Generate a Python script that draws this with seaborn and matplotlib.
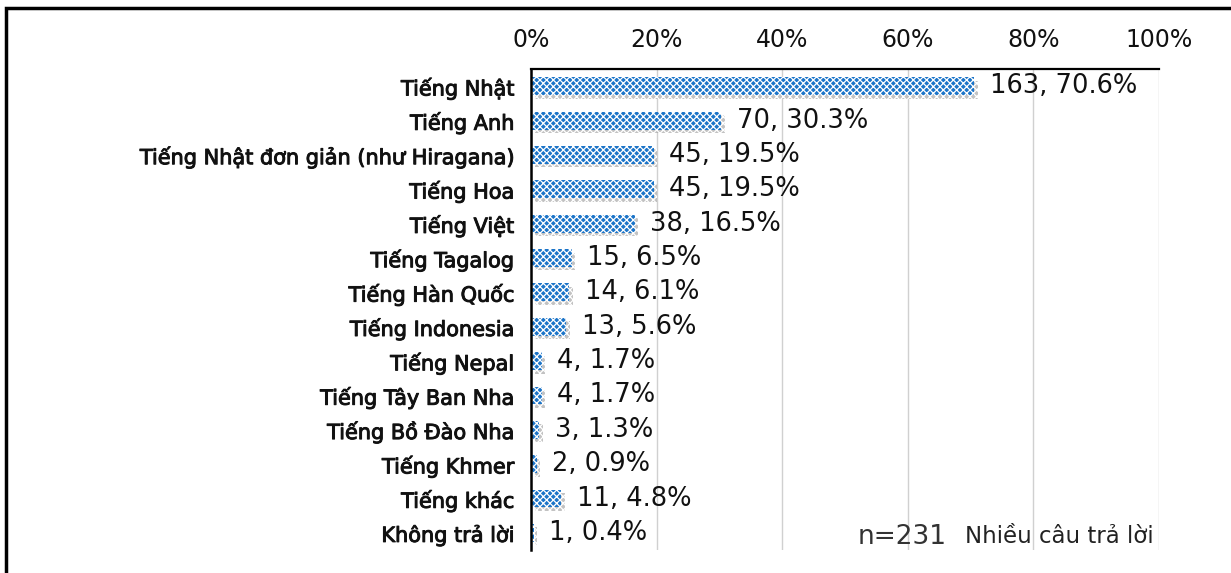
import matplotlib
matplotlib.use("Agg")
import matplotlib.pyplot as plt
import matplotlib.patheffects as pe
import seaborn as sns
import pandas as pd

languages = ["Tiếng Nhật", "Tiếng Anh", "Tiếng Nhật đơn giản (như Hiragana)",
             "Tiếng Hoa", "Tiếng Việt", "Tiếng Tagalog", "Tiếng Hàn Quốc",
             "Tiếng Indonesia", "Tiếng Nepal", "Tiếng Tây Ban Nha",
             "Tiếng Bồ Đào Nha", "Tiếng Khmer", "Tiếng khác", "Không trả lời"]
counts = [163, 70, 45, 45, 38, 15, 14, 13, 4, 4, 3, 2, 11, 1]
percents = [70.6, 30.3, 19.5, 19.5, 16.5, 6.5, 6.1, 5.6, 1.7, 1.7, 1.3, 0.9, 4.8, 0.4]
xticks = [0, 20, 40, 60, 80, 100]

df = pd.DataFrame({"lang": languages, "pct": percents, "n": counts})

sns.set_style("white")
plt.rcParams["font.family"] = ["DejaVu Sans"]
plt.rcParams["hatch.linewidth"] = 0.9

fig = plt.figure(figsize=(12.31, 5.73), dpi=100)
ax = fig.add_axes([0.4315, 0.04, 0.51, 0.8395])

sns.barplot(data=df, y="lang", x="pct", orient="h", color="#1b74c8",
            width=0.52, ax=ax, saturation=1)

for p in ax.patches:
    p.set_hatch("xxxxx")
    p.set_edgecolor("white")
    p.set_linewidth(0)
    p.set_path_effects([pe.SimplePatchShadow(offset=(2.5, -2.5), shadow_rgbFace="#9a9a9a", alpha=0.6),
                        pe.Normal()])

labels = [f"{n}, {p}%" for n, p in zip(counts, percents)]
ax.bar_label(ax.containers[0], labels=labels, padding=11, fontsize=18.5, color="#111111")

ax.set_xlim(0, 100)
ax.set_xticks(xticks)
ax.set_xticklabels([f"{t}%" for t in xticks], fontsize=17, color="#111111")
ax.xaxis.tick_top()
ax.tick_params(axis="x", length=0, pad=12)
ax.tick_params(axis="y", length=0, pad=12)
ax.set_yticklabels(languages, fontsize=15, color="#111111")
for t in ax.get_yticklabels():
    t.set_path_effects([pe.withStroke(linewidth=0.7, foreground="#111111")])
ax.set_xlabel("")
ax.set_ylabel("")
ax.grid(axis="x", color="#d0d0d0", linewidth=1)
ax.set_axisbelow(True)
for s in ["right", "bottom"]:
    ax.spines[s].set_visible(False)
ax.spines["top"].set_color("black")
ax.spines["top"].set_linewidth(1.6)
ax.spines["left"].set_color("black")
ax.spines["left"].set_linewidth(1.8)

fig.text(0.697, 0.05, "n=231", fontsize=19, color="#333333")
fig.text(0.784, 0.052, "Nhiều câu trả lời", fontsize=16.5, color="#222222")

fig.patches.append(plt.Rectangle((0.005, -0.05), 1.1, 1.036, transform=fig.transFigure,
                                 fill=False, edgecolor="black", linewidth=2.5))

fig.savefig("out.png", dpi=100)
